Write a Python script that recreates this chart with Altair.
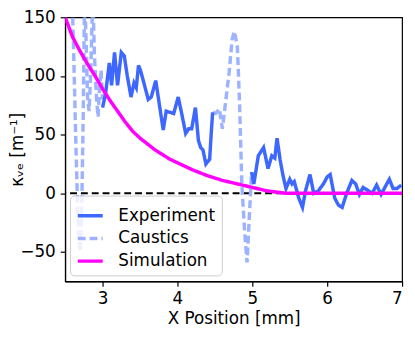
import altair as alt
import pandas as pd

# Experiment (two segments)
exp_a_x = [3.00, 3.04, 3.09, 3.12, 3.16, 3.20, 3.25, 3.29, 3.33, 3.38, 3.42, 3.45, 3.48, 3.51,
           3.56, 3.61, 3.65, 3.71, 3.76, 3.81, 3.85, 3.90, 3.95, 4.01, 4.05, 4.11, 4.15, 4.19,
           4.24, 4.28, 4.31, 4.34, 4.38, 4.43, 4.45, 4.47]
exp_a_y = [73, 85, 111, 92, 120, 92, 120, 117, 100, 82, 94, 90, 109, 104,
           92, 80, 82, 96, 75, 54, 70, 69, 68, 82, 70, 51, 55, 55,
           73, 45, 39, 37, 25, 29, 50, 69]
exp_b_x = [4.99, 5.02, 5.08, 5.15, 5.18, 5.21, 5.26, 5.30, 5.33, 5.37, 5.41, 5.45, 5.50, 5.53,
           5.56, 5.62, 5.67, 5.71, 5.77, 5.82, 5.88, 5.95, 6.00, 6.04, 6.10, 6.15, 6.20, 6.26,
           6.33, 6.38, 6.43, 6.48, 6.53, 6.60, 6.66, 6.72, 6.77, 6.83, 6.88, 6.93, 6.99]
exp_b_y = [18, 8, 32, 39, 30, 21, 32, 30, 47, 29, 15, 4, 12, 8,
           10, -4, -12, 2, 16, 0, 2, 8, 14, 16, -4, -10, -12, 0,
           11, 8, -1, 5, 3, 0, 7, -1, 5, 12, 4, 4, 7]

# Caustics (two segments)
cau_a_x = [2.58, 2.61, 2.64, 2.67, 2.70, 2.72, 2.74, 2.76, 2.78, 2.80, 2.82, 2.84, 2.87,
           2.89, 2.92, 2.94, 2.96, 2.98, 3.00]
cau_a_y = [200, 130, 50, -20, -50, -20, 60, 170, 130, 80, 70, 100, 170,
           120, 80, 65, 90, 105, 80]
cau_b_x = [4.47, 4.51, 4.56, 4.60, 4.64, 4.69, 4.73, 4.76, 4.80, 4.83, 4.86, 4.90, 4.93, 4.96, 4.99]
cau_b_y = [69, 68, 72, 55, 76, 103, 131, 138, 125, 76, 7, -35, -59, -20, 18]

# Simulation
sim_x = [2.5, 2.6, 2.7, 2.8, 2.9, 3.0, 3.1, 3.2, 3.3, 3.4, 3.5, 3.6, 3.7, 3.8, 3.9, 4.0,
         4.2, 4.4, 4.6, 4.8, 5.0, 5.2, 5.45, 6.0, 7.0]
sim_y = [150, 133, 121, 110, 100, 89, 79, 70, 61, 53, 47, 42, 37, 33, 29, 26,
         20, 15, 11, 8, 5, 2, 0, 0, 0]

series_names = ["Experiment", "Caustics", "Simulation"]
series_colors = ["#3d67ff", "#9eb3ff", "#ff00ff"]

rows = []
def add(xs, ys, series, seg):
    for i, (a, b) in enumerate(zip(xs, ys)):
        rows.append({"x": a, "y": b, "series": series, "seg": seg, "i": i})

add(cau_a_x, cau_a_y, "Caustics", "ca")
add(cau_b_x, cau_b_y, "Caustics", "cb")
add(exp_a_x, exp_a_y, "Experiment", "ea")
add(exp_b_x, exp_b_y, "Experiment", "eb")
add(sim_x, sim_y, "Simulation", "s")
df = pd.DataFrame(rows)

xscale = alt.Scale(domain=[2.5, 7], nice=False, zero=False)
yscale = alt.Scale(domain=[-75, 150], nice=False, zero=False)

zero = alt.Chart(pd.DataFrame({"y": [0]})).mark_rule(
    color="black", strokeWidth=2, strokeDash=[7, 4]
).encode(y=alt.Y("y:Q", scale=yscale))

lines = alt.Chart(df).mark_line(strokeWidth=3.5, clip=True).encode(
    x=alt.X("x:Q", scale=xscale, title="X Position [mm]",
            axis=alt.Axis(values=[3, 4, 5, 6, 7], format="d")),
    y=alt.Y("y:Q", scale=yscale, title="κᵥₑ [m⁻¹]",
            axis=alt.Axis(values=[-50, 0, 50, 100, 150], format="d",
                          titleX=-39, titleBaseline="bottom")),
    color=alt.Color("series:N", scale=alt.Scale(domain=series_names, range=series_colors),
                    sort=series_names,
                    legend=alt.Legend(title=None, orient="none", legendX=5, legendY=181,
                                      symbolType="stroke", symbolSize=640,
                                      symbolStrokeWidth=3.5, labelFontSize=17,
                                      labelFont="DejaVu Sans", labelColor="black",
                                      labelOffset=14,
                                      rowPadding=0, padding=6, cornerRadius=4,
                                      strokeColor="#cccccc",
                                      fillColor="rgba(255,255,255,0.8)")),
    strokeDash=alt.StrokeDash("series:N",
                              scale=alt.Scale(domain=series_names,
                                              range=[[1, 0], [8, 4], [1, 0]]),
                              sort=series_names, legend=None),
    detail="seg:N",
    order="i:Q",
)

chart = alt.layer(zero, lines).properties(
    width=342, height=268,
    autosize=alt.AutoSizeParams(type="none"),
    padding={"left": 58, "top": 7, "right": 5, "bottom": 45},
).configure_view(stroke="black", strokeWidth=1.2).configure_axis(
    grid=False, labelFont="DejaVu Sans", titleFont="DejaVu Sans",
    labelFontSize=17, titleFontSize=17, titleFontWeight="normal",
    labelColor="black", titleColor="black", tickColor="black",
    domainColor="black", domainWidth=1.2, tickWidth=1.2, tickSize=5,
    labelPadding=5
)

chart.save("out.html", embed_options={"renderer": "svg", "actions": False})
